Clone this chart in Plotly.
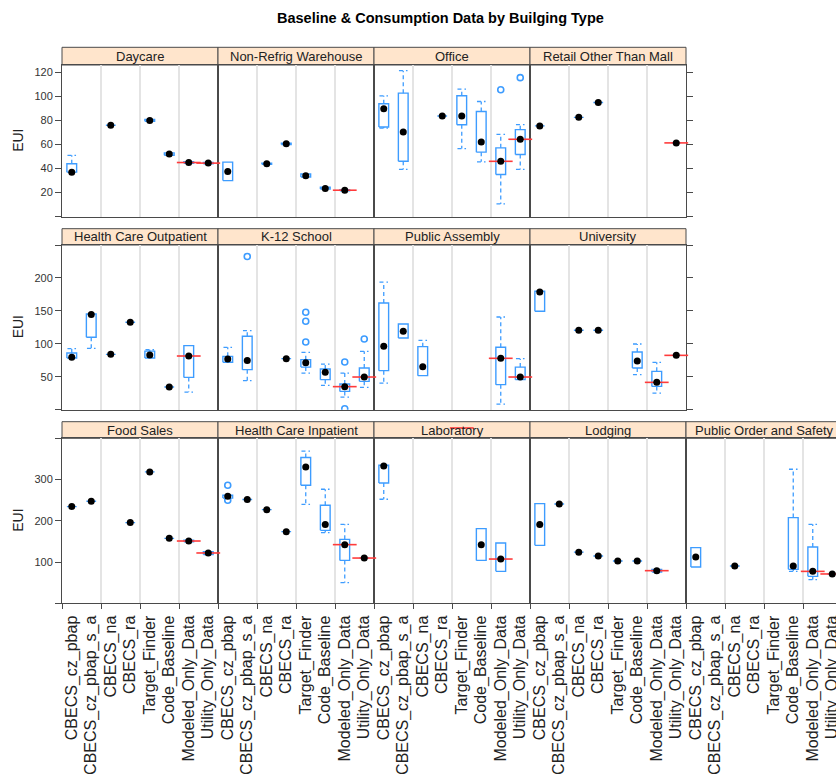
import plotly.graph_objects as go

# ---------------- data ----------------
CATEGORIES = ["CBECS_cz_pbap", "CBECS_cz_pbap_s_a", "CBECS_na", "CBECS_ra",
              "Target_Finder", "Code_Baseline", "Modeled_Only_Data", "Utility_Only_Data"]

PANEL_ROWS = [
    ["Daycare", "Non-Refrig Warehouse", "Office", "Retail Other Than Mall"],
    ["Health Care Outpatient", "K-12 School", "Public Assembly", "University"],
    ["Food Sales", "Health Care Inpatient", "Laboratory", "Lodging", "Public Order and Safety"],
]

N = None
# medians (black dots)
MEDIAN = {
    "Daycare":                 [37, N, 76, N, 80, 52, 45, 44.5],
    "Non-Refrig Warehouse":    [37.5, N, 44, 60.5, 34, 23.5, 22, N],
    "Office":                  [89.7, 70.4, N, 83.6, 83.6, 62, 46, 64.3],
    "Retail Other Than Mall":  [75.4, N, 82.5, 94.9, N, N, N, 61.3],
    "Health Care Outpatient":  [79.5, 144.4, 84, 132.7, 83, 34.4, 81.5, N],
    "K-12 School":             [77, 74.5, N, 77.5, 71.4, 57, 35, 49.6],
    "Public Assembly":         [96.2, 119, 65.3, N, N, N, 78, 49.6],
    "University":              [178.8, N, 120.5, 120.5, N, 73.9, 41.5, 82.5],
    "Food Sales":              [234.4, 247.3, N, 195.6, 318.5, 157.5, 151, 121.9],
    "Health Care Inpatient":   [259.5, 251.5, 227, 173.7, 330.6, 190.8, 142.2, 109.7],
    "Laboratory":              [333, N, N, N, N, 142.2, 107.3, N],
    "Lodging":                 [190.8, 240.8, 124, 114.6, 102.5, 102.5, 79.1, N],
    "Public Order and Safety": [112, N, 90.3, N, N, 90.3, 77.4, 71.1],
}
# lower hinge (None -> single value, equals median)
Q1 = {
    "Daycare":                 [37, N, N, N, 79.3, 51, 44.3, 44],
    "Non-Refrig Warehouse":    [30, N, 43.5, 60, 33, 23, 21.5, N],
    "Office":                  [74.5, 46, N, N, 76.4, 53.6, 35, 51.7],
    "Retail Other Than Mall":  [N, N, N, N, N, N, N, N],
    "Health Care Outpatient":  [78.4, 110, N, N, 78.4, N, 49, N],
    "K-12 School":             [72, 60.8, N, N, 64.7, 45.6, 27.8, 43],
    "Public Assembly":         [59.3, 108.8, 51.7, N, N, N, 38, 45.6],
    "University":              [149.4, N, N, N, N, 63.2, 35.4, N],
    "Food Sales":              [N, N, N, N, N, N, 149, 118],
    "Health Care Inpatient":   [255, N, N, N, 286.2, 176.9, 104, N],
    "Laboratory":              [291.7, N, N, N, N, 104, 77.4, N],
    "Lodging":                 [140.5, N, N, N, N, N, 76, N],
    "Public Order and Safety": [87.9, N, N, N, N, 82.3, 65.3, N],
}
# upper hinge
Q3 = {
    "Daycare":                 [44, N, N, N, 80.7, 53, 45.7, 45],
    "Non-Refrig Warehouse":    [45.3, N, 44.5, 61, 35.5, 24.5, 22.5, N],
    "Office":                  [93.8, 102.6, N, N, 100.4, 87.4, 57.2, 72.3],
    "Retail Other Than Mall":  [N, N, N, N, N, N, N, N],
    "Health Care Outpatient":  [86, 145.3, N, N, 88.9, N, 97.3, N],
    "K-12 School":             [81, 111.4, N, N, 76, 61.7, 38.9, 63.2],
    "Public Assembly":         [162, 130, 95.7, N, N, N, 94.7, 64.7],
    "University":              [179.8, N, N, N, N, 87.5, 58.2, N],
    "Food Sales":              [N, N, N, N, N, N, 153, 125],
    "Health Care Inpatient":   [262, N, N, N, 353.4, 237.6, 155, N],
    "Laboratory":              [334.7, N, N, N, N, 181, 146, N],
    "Lodging":                 [241.7, N, N, N, N, N, 82, N],
    "Public Order and Safety": [135, N, N, N, N, 207.8, 136.4, N],
}
# whisker ends (None -> no whisker beyond hinge)
LOWER = {
    "Daycare":                 [N] * 8,
    "Non-Refrig Warehouse":    [N] * 8,
    "Office":                  [73.5, 39.3, N, N, 56.6, 45.6, 10.6, 39.3],
    "Retail Other Than Mall":  [N] * 8,
    "Health Care Outpatient":  [N, 93, N, N, N, N, 26.7, N],
    "K-12 School":             [N, 44, N, N, 55.6, 37, 19.2, 33.9],
    "Public Assembly":         [40.4, N, N, N, N, N, 8.5, N],
    "University":              [N, N, N, N, N, 53.2, 25.2, N],
    "Food Sales":              [N] * 8,
    "Health Care Inpatient":   [N, N, N, N, 240, 171.4, 50, N],
    "Laboratory":              [252.2, N, N, N, N, N, N, N],
    "Lodging":                 [N] * 8,
    "Public Order and Safety": [N, N, N, N, N, 77.4, 57.3, N],
}
UPPER = {
    "Daycare":                 [51, N, N, N, N, N, N, N],
    "Non-Refrig Warehouse":    [N] * 8,
    "Office":                  [100.4, 121.3, N, N, 106, 95.7, 68.4, 76.4],
    "Retail Other Than Mall":  [N] * 8,
    "Health Care Outpatient":  [92.7, N, N, N, 91, N, N, N],
    "K-12 School":             [94.7, 120, N, N, 87, 69.3, 55.6, 88.6],
    "Public Assembly":         [193.5, N, 105.3, N, N, N, 140.7, 77.5],
    "University":              [N, N, N, N, N, 99.7, 71.9, N],
    "Food Sales":              [N] * 8,
    "Health Care Inpatient":   [N, N, N, N, 368.7, 276.5, 191.5, N],
    "Laboratory":              [N] * 8,
    "Lodging":                 [N] * 8,
    "Public Order and Safety": [N, N, N, N, N, 325, 191.5, N],
}
# outliers: (category index, value)
OUTLIERS = {
    "Office":                [(6, 105.4), (7, 115.5)],
    "K-12 School":           [(1, 232.5), (4, 147.9), (4, 134.2), (4, 102.7),
                              (6, 72.3), (6, 1.5), (7, 107.3)],
    "Health Care Inpatient": [(0, 286.2), (0, 249.8)],
}
# red reference marks: (category index, value)
RED = {
    "Daycare":                 [(6, 45), (7, 44.5)],
    "Non-Refrig Warehouse":    [(6, 22)],
    "Office":                  [(6, 46), (7, 64.3)],
    "Retail Other Than Mall":  [(7, 61.3)],
    "Health Care Outpatient":  [(6, 81.5)],
    "K-12 School":             [(6, 35), (7, 49.6)],
    "Public Assembly":         [(6, 78), (7, 49.6)],
    "University":              [(6, 41.5), (7, 82.5)],
    "Food Sales":              [(6, 151), (7, 122)],
    "Health Care Inpatient":   [(6, 142.2), (7, 109.7)],
    "Laboratory":              [(4, 425), (6, 107.3)],
    "Lodging":                 [(6, 79.1)],
    "Public Order and Safety": [(6, 77.4), (7, 71.1)],
}

ROW_TICKS = [[0, 20, 40, 60, 80, 100, 120],
             [0, 50, 100, 150, 200, 250],
             [0, 100, 200, 300, 400]]
ROW_TICK_LABELS = [["", "20", "40", "60", "80", "100", "120"],
                   ["", "50", "100", "150", "200", ""],
                   ["", "100", "200", "300", ""]]
ROW_RANGES = [[0, 126], [0, 250], [0, 400]]

TITLE = "Baseline & Consumption Data by Builging Type"
Y_LABEL = "EUI"

# ---------------- layout geometry (pixels) ----------------
W, H = 844, 774
COL_EDGES = [62, 218, 374, 530, 686, 842]
ROW_PLOT = [(65.0, 216.7), (245.0, 409.7), (438.3, 603.3)]
ROW_STRIP_TOP = [47.3, 228.7, 421.7]

FONT = "Liberation Sans, Arial, Helvetica, sans-serif"
BLUE = "#3d9cff"
FRAME = "#4a4a4a"
N_PANELS = sum(len(r) for r in PANEL_ROWS)


def fx(p):
    return p / W


def fy(p):
    return 1 - p / H


def axid(letter, i):
    return letter if i == 1 else f"{letter}{i}"


def axkey(letter, i):
    return f"{letter}axis" if i == 1 else f"{letter}axis{i}"


fig = go.Figure()
shapes, annotations = [], []
layout = {}

k = 0
for r, row in enumerate(PANEL_ROWS):
    top, bot = ROW_PLOT[r]
    stop = ROW_STRIP_TOP[r]
    for c, name in enumerate(row):
        k += 1
        xa, ya = axid("x", k), axid("y", k)
        # overlay subplot reaching into the strip (for the dots and red marks)
        ko = k + N_PANELS
        xo, yo = axid("x", ko), axid("y", ko)

        med = MEDIAN[name]
        q1 = Q1[name]
        q3 = Q3[name]
        lo = LOWER[name]
        hi = UPPER[name]

        bx, by, wx, wy = [], [], [], []
        dx, dy = [], []
        for i in range(len(CATEGORIES)):
            if med[i] is None:
                continue
            pos = i + 1
            a = q1[i] if q1[i] is not None else med[i]
            b = q3[i] if q3[i] is not None else med[i]
            bx += [pos - 0.25, pos + 0.25, pos + 0.25, pos - 0.25, pos - 0.25, None]
            by += [a, a, b, b, a, None]
            if hi[i] is not None:
                wx += [pos, pos, None, pos - 0.22, pos + 0.22, None]
                wy += [b, hi[i], None, hi[i], hi[i], None]
            if lo[i] is not None:
                wx += [pos, pos, None, pos - 0.22, pos + 0.22, None]
                wy += [a, lo[i], None, lo[i], lo[i], None]
            dx.append(pos)
            dy.append(med[i])

        fig.add_trace(go.Scatter(x=wx, y=wy, mode="lines", xaxis=xa, yaxis=ya,
                                 line=dict(color=BLUE, width=1.3, dash="4px,3px"),
                                 hoverinfo="skip", showlegend=False))
        fig.add_trace(go.Scatter(x=bx, y=by, mode="lines", xaxis=xa, yaxis=ya,
                                 line=dict(color=BLUE, width=1.4),
                                 hoverinfo="skip", showlegend=False))
        outs = OUTLIERS.get(name, [])
        if outs:
            fig.add_trace(go.Scatter(x=[o[0] + 1 for o in outs], y=[o[1] for o in outs],
                                     mode="markers", xaxis=xa, yaxis=ya,
                                     marker=dict(symbol="circle-open", size=6, color=BLUE,
                                                 line=dict(width=1.6, color=BLUE)),
                                     showlegend=False))
        reds = RED.get(name, [])
        if reds:
            fig.add_trace(go.Scatter(x=[o[0] + 1 for o in reds], y=[o[1] for o in reds],
                                     mode="markers", xaxis=xo, yaxis=yo, cliponaxis=False,
                                     marker=dict(symbol="line-ew", size=17,
                                                 line=dict(width=1.6, color="#ff3b3b")),
                                     showlegend=False))
        fig.add_trace(go.Scatter(x=dx, y=dy, mode="markers", xaxis=xo, yaxis=yo,
                                 cliponaxis=False,
                                 marker=dict(symbol="circle", size=7, color="black"),
                                 showlegend=False))

        x0, x1 = COL_EDGES[c], COL_EDGES[c + 1]
        is_bottom = (r == len(PANEL_ROWS) - 1)
        layout[axkey("x", k)] = dict(
            domain=[fx(x0), fx(x1)], anchor=ya, range=[0.5, 8.5],
            tickmode="array", tickvals=list(range(1, 9)), ticktext=CATEGORIES,
            showticklabels=is_bottom, tickangle=-90,
            tickfont=dict(family=FONT, size=16, color="#222"),
            ticks="outside" if is_bottom else "", ticklen=5, tickcolor="rgba(0,0,0,0)",
            showgrid=False, zeroline=False,
            showline=True, mirror=True, linecolor=FRAME, linewidth=1,
            minor=dict(tickmode="array", tickvals=[0.5, 2.5, 4.5, 6.5, 8.5],
                       showgrid=True, gridcolor="#e4e4e4", gridwidth=1.5,
                       ticks="outside" if is_bottom else "", ticklen=5,
                       tickcolor=FRAME, tickwidth=1),
        )
        first = (c == 0)
        right_ticks = (c == 3 and r < 2)
        r0, r1 = ROW_RANGES[r]
        layout[axkey("y", k)] = dict(
            domain=[fy(bot), fy(top)], anchor=xa, range=[r0, r1],
            tickmode="array", tickvals=ROW_TICKS[r], ticktext=ROW_TICK_LABELS[r],
            showticklabels=first, side="right" if right_ticks else "left",
            ticks="outside" if (first or right_ticks) else "", ticklen=6,
            tickcolor=FRAME, tickfont=dict(family=FONT, size=11, color="#333"),
            showgrid=False, zeroline=False,
            showline=True, mirror=True, linecolor=FRAME, linewidth=1,
        )
        # overlay axes: same data scale, extended upward over the strip
        layout[axkey("x", ko)] = dict(domain=[fx(x0), fx(x1)], anchor=yo,
                                      range=[0.5, 8.5], visible=False)
        layout[axkey("y", ko)] = dict(domain=[fy(bot), fy(stop)], anchor=xo,
                                      range=[r0, r0 + (r1 - r0) * (bot - stop) / (bot - top)],
                                      visible=False)

        # strip
        shapes.append(dict(type="rect", xref="paper", yref="paper", layer="below",
                           x0=fx(x0), x1=fx(x1), y0=fy(top), y1=fy(stop),
                           fillcolor="#FFE5CC", line=dict(color=FRAME, width=1)))
        annotations.append(dict(text=name, xref="paper", yref="paper", showarrow=False,
                                x=fx((x0 + x1) / 2), y=fy((top + stop) / 2),
                                xanchor="center", yanchor="middle",
                                font=dict(family=FONT, size=13, color="#222")))

    annotations.append(dict(text=Y_LABEL, xref="paper", yref="paper", showarrow=False,
                            x=fx(18), y=fy((top + bot) / 2), textangle=-90,
                            xanchor="center", yanchor="middle",
                            font=dict(family=FONT, size=14, color="#222")))

annotations.append(dict(text="<b>" + TITLE + "</b>", xref="paper", yref="paper",
                        showarrow=False, x=fx(440), y=fy(18), xanchor="center",
                        yanchor="middle", font=dict(family=FONT, size=14.5, color="black")))

fig.update_layout(
    width=W, height=H, margin=dict(l=0, r=0, t=0, b=0, pad=0),
    paper_bgcolor="white", plot_bgcolor="rgba(0,0,0,0)",
    shapes=shapes, annotations=annotations, showlegend=False,
    **layout,
)

fig.write_html("out.html", config={"displayModeBar": False},
               post_script="document.body.style.margin='0';document.body.style.overflow='hidden';")
